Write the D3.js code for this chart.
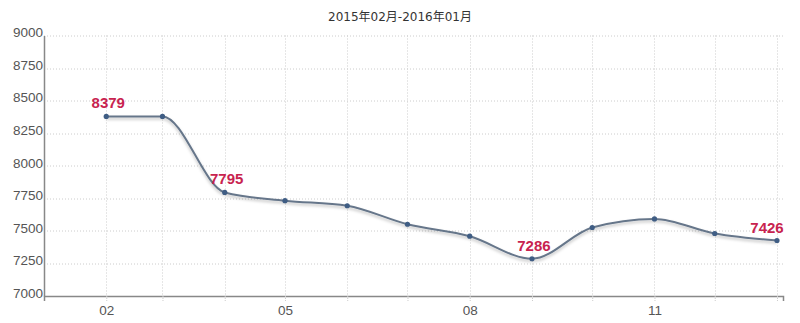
<!DOCTYPE html>
<html>
<head>
<meta charset="utf-8">
<script src="https://cdn.jsdelivr.net/npm/d3@7"></script>
<style>
  body { margin: 0; background: #fff; }
  svg { display: block; font-family: "Liberation Sans", Arial, sans-serif; }
</style>
</head>
<body>
<div id="chart"></div>
<script>
// chart data
var title = "2015年02月-2016年01月";
var months = ["2015-02", "2015-03", "2015-04", "2015-05", "2015-06", "2015-07",
              "2015-08", "2015-09", "2015-10", "2015-11", "2015-12", "2016-01"];
var prices = [8379, 8379, 7795, 7732, 7693, 7551, 7459, 7286, 7526, 7592, 7480, 7426];
var labeled = ["2015-02", "2015-04", "2015-09", "2016-01"];
var xTickLabels = {"2015-02": "02", "2015-05": "05", "2015-08": "08", "2015-11": "11"};
var yTicks = [7000, 7250, 7500, 7750, 8000, 8250, 8500, 8750, 9000];

var W = 800, H = 323;
var margin = {top: 35.5, right: 17, bottom: 27, left: 44},
    width = W - margin.left - margin.right,
    height = H - margin.top - margin.bottom;

var parse = d3.utcParse("%Y-%m");
var data = months.map(function(m, i) { return {key: m, date: parse(m), value: prices[i]}; });

var svg = d3.select("#chart")
  .append("svg")
    .attr("width", W)
    .attr("height", H);

var defs = svg.append("defs");
var f = defs.append("filter").attr("id", "shadow")
  .attr("x", "-5%").attr("y", "-20%").attr("width", "110%").attr("height", "160%");
f.append("feDropShadow")
  .attr("dx", 0).attr("dy", 2).attr("stdDeviation", 1.8)
  .attr("flood-color", "#000").attr("flood-opacity", 0.25);

svg.append("text")
  .attr("x", W / 2)
  .attr("y", 21)
  .attr("text-anchor", "middle")
  .attr("fill", "#333")
  .style("font-family", "'DejaVu Sans', 'Noto Sans CJK SC', sans-serif")
  .style("font-size", "12px")
  .text(title);

var g = svg.append("g")
  .attr("transform", "translate(" + margin.left + "," + margin.top + ")");

// time scale: Jan 1 2015 .. a few days into 2016
var x = d3.scaleUtc()
  .domain([parse("2015-01"), d3.utcDay.offset(parse("2016-01"), 3.5)])
  .range([0, width]);

var y = d3.scaleLinear()
  .domain([7000, 9000])
  .range([height, 0]);

// grid
g.append("g")
  .selectAll("line")
  .data(yTicks.slice(1))
  .join("line")
    .attr("x1", 0).attr("x2", width)
    .attr("y1", function(d) { return Math.round(y(d)) + 0.5; })
    .attr("y2", function(d) { return Math.round(y(d)) + 0.5; })
    .attr("stroke", "#ccc")
    .attr("stroke-dasharray", "1,2");

g.append("g")
  .selectAll("line")
  .data(data)
  .join("line")
    .attr("x1", function(d) { return Math.round(x(d.date)) + 0.5; })
    .attr("x2", function(d) { return Math.round(x(d.date)) + 0.5; })
    .attr("y1", 0).attr("y2", height)
    .attr("stroke", "#ccc")
    .attr("stroke-dasharray", "1,2");

// x axis
var xAxis = g.append("g")
  .attr("transform", "translate(0," + height + ")")
  .call(d3.axisBottom(x)
    .tickValues(data.map(function(d) { return d.date; }))
    .tickSize(5)
    .tickPadding(4)
    .tickFormat(function(d) { return xTickLabels[d3.utcFormat("%Y-%m")(d)] || ""; }));
xAxis.select(".domain").attr("stroke", "#888").attr("stroke-width", 1.5);
xAxis.selectAll(".tick line").attr("stroke", "#ccc").attr("stroke-dasharray", "1,1");
xAxis.selectAll("text")
  .attr("fill", "#555")
  .style("font-family", "'Liberation Sans', Arial, sans-serif")
  .style("font-size", "13.5px");

// y axis
var yAxis = g.append("g")
  .call(d3.axisLeft(y)
    .tickValues(yTicks)
    .tickFormat(d3.format("d"))
    .tickSize(0)
    .tickPadding(1));
yAxis.select(".domain").attr("stroke", "#888").attr("stroke-width", 1.5);
yAxis.selectAll("text")
  .attr("fill", "#555")
  .attr("dy", "0.1em")
  .style("font-family", "'Liberation Sans', Arial, sans-serif")
  .style("font-size", "13.5px");

// line
g.append("path")
  .datum(data)
  .attr("fill", "none")
  .attr("stroke", "#66768a")
  .attr("stroke-width", 2)
  .attr("filter", "url(#shadow)")
  .attr("d", d3.line()
    .curve(d3.curveMonotoneX)
    .x(function(d) { return x(d.date); })
    .y(function(d) { return y(d.value); }));

// points
g.append("g")
  .selectAll("circle")
  .data(data)
  .join("circle")
    .attr("cx", function(d) { return x(d.date); })
    .attr("cy", function(d) { return y(d.value); })
    .attr("r", 2.6)
    .attr("fill", "#3f5d84");

// value labels
g.append("g")
  .selectAll("text")
  .data(data.filter(function(d) { return labeled.indexOf(d.key) >= 0; }))
  .join("text")
    .attr("x", function(d) { return Math.min(x(d.date) + 2, width - 16); })
    .attr("y", function(d) { return y(d.value) - 8; })
    .attr("text-anchor", "middle")
    .attr("fill", "#c8234f")
    .style("font-weight", "bold")
    .style("font-size", "15px")
    .text(function(d) { return d.value; });
</script>
</body>
</html>
